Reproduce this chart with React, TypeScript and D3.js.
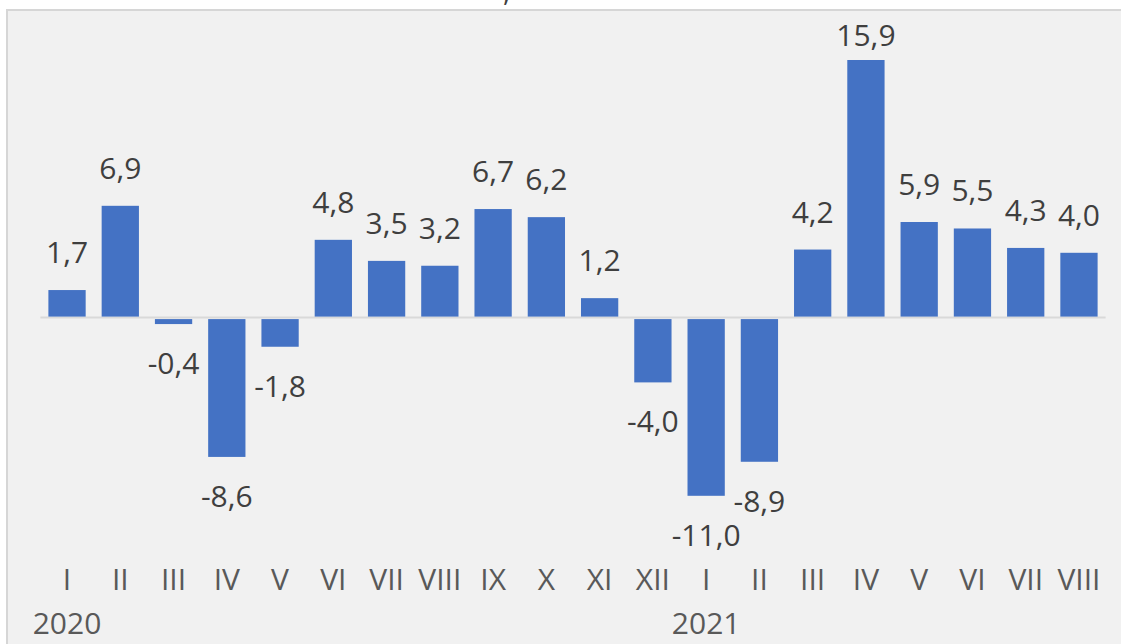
import React, { useEffect, useRef } from "react";
import * as d3 from "d3";

const months = ["I", "II", "III", "IV", "V", "VI", "VII", "VIII", "IX", "X", "XI", "XII",
  "I", "II", "III", "IV", "V", "VI", "VII", "VIII"];
const years = ["2020", "2020", "2020", "2020", "2020", "2020", "2020", "2020", "2020", "2020", "2020", "2020",
  "2021", "2021", "2021", "2021", "2021", "2021", "2021", "2021"];
const values = [1.7, 6.9, -0.4, -8.6, -1.8, 4.8, 3.5, 3.2, 6.7, 6.2, 1.2, -4.0,
  -11.0, -8.9, 4.2, 15.9, 5.9, 5.5, 4.3, 4.0];
const yearLabels = ["2020", "2021"];

const width = 1121;
const height = 644;

export default function App() {
  const ref = useRef<SVGSVGElement>(null);

  useEffect(() => {
    const svg = d3.select(ref.current);
    svg.selectAll("*").remove();

    const font = "'Open Sans', sans-serif";
    const idx = values.map((_, i) => i);

    const x = d3
      .scaleBand<number>()
      .domain(idx)
      .range([40.4, 1105.6])
      .paddingInner(0.3)
      .paddingOuter(0.15);

    const y = d3.scaleLinear().domain([-11, 15.9]).range([495.8, 60]);

    // background + frame
    svg.append("rect").attr("width", width).attr("height", height).attr("fill", "#ffffff");
    svg
      .append("rect")
      .attr("x", 7)
      .attr("y", 10)
      .attr("width", width + 20)
      .attr("height", height + 20)
      .attr("fill", "#f1f1f1")
      .attr("stroke", "#d6d6d6")
      .attr("stroke-width", 2);

    // remnant of title cut off at the top
    svg
      .append("text")
      .attr("x", 503)
      .attr("y", 1)
      .attr("font-family", font)
      .attr("font-size", 28)
      .attr("fill", "#404040")
      .text(",");

    // zero line
    svg
      .append("line")
      .attr("x1", x.range()[0])
      .attr("x2", x.range()[1])
      .attr("y1", y(0))
      .attr("y2", y(0))
      .attr("stroke", "#d9d9d9")
      .attr("stroke-width", 2);

    // bars
    svg
      .selectAll(".bar")
      .data(values)
      .join("rect")
      .attr("class", "bar")
      .attr("x", (_, i) => x(i)!)
      .attr("y", (d) => (d >= 0 ? y(d) : y(0) + 1.5))
      .attr("width", x.bandwidth())
      .attr("height", (d) => (d >= 0 ? y(0) - 1 - y(d) : y(d) - y(0) - 1.5))
      .attr("fill", "#4472c4");

    // value labels
    const fmt = (v: number) => d3.format(".1f")(v).replace(".", ",").replace("−", "-");
    svg
      .selectAll(".lbl")
      .data(values)
      .join("text")
      .attr("class", "lbl")
      .attr("x", (_, i) => x(i)! + x.bandwidth() / 2)
      .attr("y", (d) => (d >= 0 ? Math.max(y(d) - 27, 46) : y(d) + 50))
      .attr("text-anchor", "middle")
      .attr("font-family", font)
      .attr("font-size", 30)
      .attr("fill", "#3f3f3f")
      .text((d) => fmt(d));

    // month axis labels
    svg
      .selectAll(".mon")
      .data(months)
      .join("text")
      .attr("class", "mon")
      .attr("x", (_, i) => x(i)! + x.bandwidth() / 2)
      .attr("y", 590)
      .attr("text-anchor", "middle")
      .attr("font-family", font)
      .attr("font-size", 30)
      .attr("fill", "#595959")
      .text((d) => d);

    // year labels under first month of each year
    svg
      .selectAll(".yr")
      .data(yearLabels)
      .join("text")
      .attr("class", "yr")
      .attr("x", (d) => x(years.indexOf(d))! + x.bandwidth() / 2)
      .attr("y", 634)
      .attr("text-anchor", "middle")
      .attr("font-family", font)
      .attr("font-size", 30)
      .attr("fill", "#595959")
      .text((d) => d);
  }, []);

  return (
    <svg
      ref={ref}
      width={width}
      height={height}
      style={{ position: "absolute", left: 0, top: 0, display: "block" }}
    />
  );
}
